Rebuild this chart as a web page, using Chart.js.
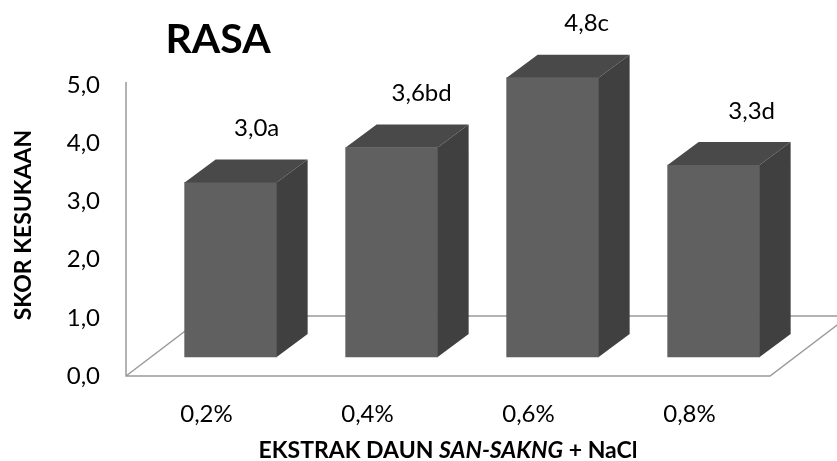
<!DOCTYPE html>
<html>
<head>
<meta charset="utf-8">
<script src="https://cdn.jsdelivr.net/npm/chart.js@4.4.1/dist/chart.umd.min.js"></script>
<style>
  html, body { margin: 0; padding: 0; background: #fff; }
  #wrap { width: 837px; height: 461px; position: relative; }
</style>
</head>
<body>
<div id="wrap"><canvas id="myChart"></canvas></div>
<script>
  // values
  var categories = ["0,2%", "0,4%", "0,6%", "0,8%"];
  var scores = [3.0, 3.6, 4.8, 3.3];
  var letters = ["a", "bd", "c", "d"];

  var FONT = "Lato, 'Open Sans', sans-serif";

  // fake 3D look (px): floor depth and bar depth
  var FLOOR_DX = 79, FLOOR_DY = 60;
  var BAR_DX = 31, BAR_DY = 23;

  function fmt(v) {
    return v.toFixed(1).replace(".", ",");
  }

  function poly(ctx, pts) {
    ctx.beginPath();
    ctx.moveTo(pts[0][0], pts[0][1]);
    for (var i = 1; i < pts.length; i++) ctx.lineTo(pts[i][0], pts[i][1]);
    ctx.closePath();
    ctx.fill();
  }

  var box3d = {
    id: "box3d",
    beforeDatasetsDraw: function (chart) {
      var a = chart.chartArea, ctx = chart.ctx;
      ctx.save();
      ctx.strokeStyle = "#9b9b9b";
      ctx.lineWidth = 1.5;
      ctx.beginPath();
      ctx.moveTo(a.left, a.top - 3);
      ctx.lineTo(a.left, a.bottom);
      ctx.lineTo(a.right, a.bottom);
      ctx.lineTo(a.right + FLOOR_DX, a.bottom - FLOOR_DY);
      ctx.lineTo(a.left + FLOOR_DX, a.bottom - FLOOR_DY);
      ctx.lineTo(a.left, a.bottom);
      ctx.stroke();
      ctx.restore();
    },
    afterDatasetsDraw: function (chart) {
      var ctx = chart.ctx;
      var meta = chart.getDatasetMeta(0);
      ctx.save();
      meta.data.forEach(function (bar, i) {
        var l = bar.x - bar.width / 2, r = bar.x + bar.width / 2;
        var t = bar.y, b = bar.base;
        // top face
        ctx.fillStyle = "#494949";
        poly(ctx, [[l, t], [l + BAR_DX, t - BAR_DY], [r + BAR_DX, t - BAR_DY], [r, t]]);
        // side face
        ctx.fillStyle = "#404040";
        poly(ctx, [[r, t], [r + BAR_DX, t - BAR_DY], [r + BAR_DX, b - BAR_DY], [r, b]]);
        // value label
        ctx.fillStyle = "#000";
        ctx.font = "24px " + FONT;
        ctx.textAlign = "center";
        ctx.textBaseline = "middle";
        ctx.fillText(fmt(scores[i]) + letters[i], bar.x + 26 + 4 * i, t - 54);
      });
      ctx.restore();
    },
    afterDraw: function (chart) {
      var ctx = chart.ctx;
      ctx.save();
      ctx.fillStyle = "#000";
      ctx.textBaseline = "alphabetic";

      // chart title
      ctx.font = "bold 41px " + FONT;
      ctx.textAlign = "center";
      ctx.fillText("RASA", 218, 53);

      // y axis title
      ctx.save();
      ctx.translate(31, 225);
      ctx.rotate(-Math.PI / 2);
      ctx.font = "bold 23px " + FONT;
      ctx.fillText("SKOR KESUKAAN", 0, 0);
      ctx.restore();

      // x axis title, with the plant name in italics
      var parts = [
        ["EKSTRAK DAUN ", "bold 23px " + FONT],
        ["SAN-SAKNG", "italic bold 23px " + FONT],
        [" + NaCl", "bold 23px " + FONT]
      ];
      var total = 0;
      parts.forEach(function (p) { ctx.font = p[1]; total += ctx.measureText(p[0]).width; });
      var x = 448 - total / 2;
      ctx.textAlign = "left";
      parts.forEach(function (p) {
        ctx.font = p[1];
        ctx.fillText(p[0], x, 458);
        x += ctx.measureText(p[0]).width;
      });
      ctx.restore();
    }
  };

  var ctx = document.getElementById("myChart").getContext("2d");
  new Chart(ctx, {
    type: "bar",
    data: {
      labels: categories,
      datasets: [
        {
          data: scores.map(function (v, i) { return { x: i, y: v }; }),
          xAxisID: "xb",
          yAxisID: "yb",
          backgroundColor: "#606060",
          borderWidth: 0,
          barThickness: 92,
          clip: false
        }
      ]
    },
    options: {
      responsive: true,
      maintainAspectRatio: false,
      animation: false,
      layout: { padding: { top: 85, right: 67, left: 0, bottom: 0 } },
      plugins: {
        legend: { display: false },
        tooltip: { enabled: false }
      },
      scales: {
        x: {
          type: "category",
          offset: true,
          grid: { display: false, drawTicks: false },
          border: { display: false },
          ticks: { color: "#000", font: { family: FONT, size: 24 }, padding: 24, maxRotation: 0 },
          afterFit: function (s) { s.height = 85; }
        },
        y: {
          type: "linear",
          min: 0,
          max: 5,
          grid: { display: false, drawTicks: false },
          border: { display: false },
          ticks: {
            stepSize: 1,
            color: "#000",
            font: { family: FONT, size: 24 },
            padding: 26,
            callback: function (v) { return fmt(v); }
          },
          afterFit: function (s) { s.width = 126; }
        },
        // hidden scales that put the bars part way back on the floor
        xb: { type: "linear", display: false, offset: false, min: -0.65, max: 3.35 },
        yb: { type: "linear", display: false, min: -0.326, max: 4.674 }
      }
    },
    plugins: [box3d]
  });
</script>
</body>
</html>
